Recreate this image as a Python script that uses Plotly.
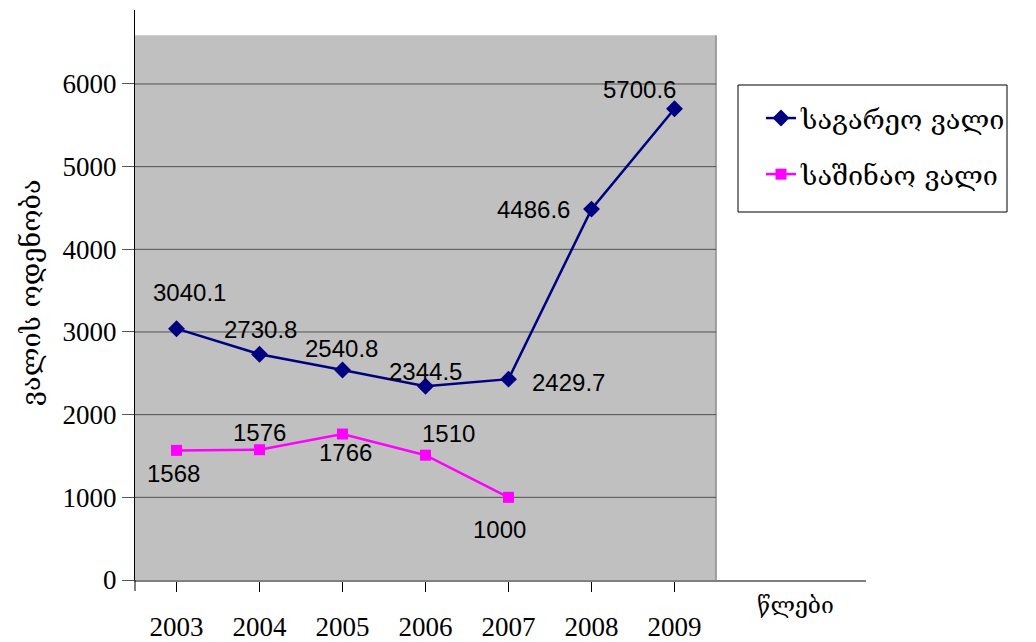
import plotly.graph_objects as go

# Data
years = ["2003", "2004", "2005", "2006", "2007", "2008", "2009"]
external_debt = [3040.1, 2730.8, 2540.8, 2344.5, 2429.7, 4486.6, 5700.6]
domestic_years = ["2003", "2004", "2005", "2006", "2007"]
domestic_debt = [1568, 1576, 1766, 1510, 1000]
y_ticks = [0, 1000, 2000, 3000, 4000, 5000, 6000]

series_names = ["საგარეო ვალი", "საშინაო ვალი"]
y_title = "ვალის ოდენობა"
x_title = "წლები"

# Label offsets in pixels (dx, dy; dy positive = up)
ext_offsets = [(13, 36), (1, 25), (-1, 21), (0, 15), (60, -3), (-58, 0), (-35, 19)]
dom_offsets = [(-3, -23), (0, 17), (3, -18), (23, 22), (-9, -32)]

NAVY = "#000080"
MAGENTA = "#FF00FF"
GEO_FONT = "DejaVu Serif, DejaVu Sans, serif"
LABEL_FONT = dict(family="Liberation Sans, Arial", size=24, color="black")

# Plot area geometry (pixels)
L, R, T, B = 135, 866, 10, 580
PW, PH = R - L, B - T


def px_x(x):
    return (x - L) / PW


def px_y(y):
    return (B - y) / PH


fig = go.Figure()

fig.add_trace(go.Scatter(
    x=years, y=external_debt, name=series_names[0], mode="lines+markers",
    line=dict(color=NAVY, width=2.5),
    marker=dict(symbol="diamond", size=13, color=NAVY),
    legendgroup="a",
))
fig.add_trace(go.Scatter(
    x=domestic_years, y=domestic_debt, name=series_names[1], mode="lines+markers",
    line=dict(color=MAGENTA, width=2.5),
    marker=dict(symbol="square", size=11, color=MAGENTA),
    legendgroup="b",
))

# Gray plotting region and its gridlines
shapes = [dict(type="rect", xref="x", yref="y", x0=-0.5, x1=6.5, y0=0, y1=6590,
               fillcolor="#C0C0C0", line=dict(width=0), layer="below")]
shapes.append(dict(type="line", xref="x", yref="y", x0=6.5, x1=6.5, y0=0, y1=6590,
                   line=dict(color="#8c8c8c", width=1.5), layer="below"))
for v in y_ticks[1:]:
    shapes.append(dict(type="line", xref="x", yref="y", x0=-0.5, x1=6.5, y0=v, y1=v,
                       line=dict(color="#505050", width=1), layer="below"))
# small extension of the vertical axis below zero
shapes.append(dict(type="line", xref="paper", yref="paper", x0=0, x1=0, y0=0, y1=px_y(591),
                   line=dict(color="black", width=1)))
# legend frame
shapes.append(dict(type="rect", xref="paper", yref="paper",
                   x0=px_x(738), x1=px_x(1007), y0=px_y(212), y1=px_y(85),
                   line=dict(color="black", width=1), fillcolor="rgba(0,0,0,0)"))

# Value labels (category axis positions are indices)
annotations = []
for i, (yv, (dx, dy)) in enumerate(zip(external_debt, ext_offsets)):
    annotations.append(dict(x=i, y=yv, text=f"{yv:g}", showarrow=False,
                            xshift=dx, yshift=dy, font=LABEL_FONT))
for i, (yv, (dx, dy)) in enumerate(zip(domestic_debt, dom_offsets)):
    annotations.append(dict(x=i, y=yv, text=f"{yv:g}", showarrow=False,
                            xshift=dx, yshift=dy, font=LABEL_FONT))

annotations.append(dict(x=px_x(795), y=px_y(605), xanchor="center", yanchor="middle",
                        xref="paper", yref="paper", text=x_title, showarrow=False,
                        font=dict(family=GEO_FONT, size=23, color="black")))
annotations.append(dict(x=px_x(30), y=px_y(292), xanchor="center", yanchor="middle",
                        xref="paper", yref="paper",
                        text=y_title, textangle=-90, showarrow=False,
                        font=dict(family=GEO_FONT, size=27, color="black")))

fig.update_layout(
    width=1036, height=642,
    margin=dict(l=L, r=1036 - R, t=T, b=642 - B),
    paper_bgcolor="white", plot_bgcolor="white",
    shapes=shapes, annotations=annotations,
    showlegend=True,
    legend=dict(
        x=px_x(761), y=px_y(94), xanchor="left", yanchor="top",
        borderwidth=0, bgcolor="rgba(0,0,0,0)",
        font=dict(family=GEO_FONT, size=27, color="black"),
        traceorder="grouped", tracegroupgap=18,
    ),
    xaxis=dict(
        type="category", range=[-0.5, 8.307], automargin=False,
        showline=True, linecolor="#808080", linewidth=2,
        ticks="outside", ticklen=10, tickcolor="black", tickwidth=1,
        showgrid=False, zeroline=False,
        ticklabelstandoff=12,
        tickfont=dict(family="Liberation Serif, Times New Roman", size=27, color="black"),
    ),
    yaxis=dict(
        range=[0, 6895], tickvals=y_ticks, automargin=False,
        showline=True, linecolor="black", linewidth=1,
        ticks="outside", ticklen=12, tickcolor="#555555", tickwidth=1,
        showgrid=False, zeroline=False,
        ticklabelstandoff=0,
        tickfont=dict(family="Liberation Serif, Times New Roman", size=27, color="black"),
    ),
)

fig.write_html("out.html")
